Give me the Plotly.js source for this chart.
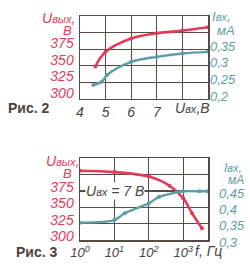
<!DOCTYPE html>
<html>
<head>
<meta charset="utf-8">
<script src="https://cdn.plot.ly/plotly-3.0.1.min.js"></script>
<style>html,body{margin:0;padding:0;background:#fff;}#chart{width:250px;height:270px;}</style>
</head>
<body>
<div id="chart"></div>
<script>
// Fig. 2: Uвых and Iвх versus Uвх
const uinRed = [4.6, 5, 6, 7, 8, 9];
const uoutRed = [349, 371, 391, 399, 403, 408];
const uinTeal = [4.52, 4.85, 5.05, 6, 7, 8, 9];
const iinTeal = [0.242, 0.252, 0.272, 0.312, 0.327, 0.337, 0.342];
const fig2XTicks = [4, 5, 6, 7, 8, 9];
const fig2XText = ['4', '5', '6', '7', '', ''];
const fig2YTicks = [300, 325, 350, 375, 400, 425];
const fig2YText = ['300', '325', '350', '375', '', ''];
const fig2Y2Ticks = [0.2, 0.25, 0.3, 0.35, 0.4, 0.45];
const fig2Y2Text = ['0,2', '0,25', '0,3', '0,35', '', ''];

// Fig. 3: Uвых and Iвх versus f (Uвх = 7 В)
const fRed = [1, 10, 100, 400, 1000, 1800, 3500];
const uoutF = [406, 404, 397, 383, 364, 341, 318];
const fTeal = [1, 10, 20, 100, 200, 1000, 3000, 5000];
const iinF = [0.353, 0.361, 0.382, 0.412, 0.432, 0.449, 0.449, 0.449];
const fig3XTicks = [1, 10, 100, 1000];
const fig3XText = ['10<sup>0</sup>', '10<sup>1</sup>', '10<sup>2</sup>', '10<sup>3</sup>'];
const fig3YTicks = [300, 325, 350, 375, 400, 425];
const fig3YText = ['300', '325', '350', '375', '', ''];
const fig3Y2Ticks = [0.3, 0.35, 0.4, 0.45, 0.5, 0.55];
const fig3Y2Text = ['0,3', '0,35', '0,4', '0,45', '', ''];

const RED = '#e23c58';
const TEAL = '#5c9ea2';
const GRID = '#574b45';
const DARK = '#4a423d';
const FONT = 'Liberation Sans, Arial, sans-serif';

const it = t => t ? '<i>' + t + '</i>' : '';

const traces = [
  {x: uinRed, y: uoutRed, xaxis: 'x', yaxis: 'y', mode: 'lines+markers',
   line: {color: RED, width: 2.6, shape: 'spline', smoothing: 1}, marker: {color: RED, size: 4}},
  {x: uinTeal, y: iinTeal, xaxis: 'x', yaxis: 'y2', mode: 'lines+markers',
   line: {color: TEAL, width: 2.4, shape: 'spline', smoothing: 1}, marker: {color: TEAL, size: 4}},
  {x: fRed, y: uoutF, xaxis: 'x2', yaxis: 'y3', mode: 'lines+markers',
   line: {color: RED, width: 2.6, shape: 'spline', smoothing: 0.9}, marker: {color: RED, size: 4}},
  {x: fTeal, y: iinF, xaxis: 'x2', yaxis: 'y4', mode: 'lines+markers',
   line: {color: TEAL, width: 2.4, shape: 'spline', smoothing: 0.8}, marker: {color: TEAL, size: 4}}
];

const baseAxis = {showgrid: true, gridcolor: GRID, gridwidth: 1.3, showline: true, linecolor: GRID,
  linewidth: 1.5, mirror: true, zeroline: false, ticks: '', fixedrange: true};

function pxX(px) { return (px - 80) / 128; }
function pxY(py) { return (240 - py) / 224; }

const tickFontDark = {family: FONT, size: 14, color: DARK};
const tickFontDarkSm = {family: FONT, size: 13, color: DARK};
const tickFontRed = {family: FONT, size: 14, color: RED};
const tickFontTeal = {family: FONT, size: 13, color: TEAL};

const sub = t => '<span style="font-size:11px">' + t + '</span>';

const layout = {
  width: 250, height: 270,
  margin: {l: 80, r: 42, t: 16, b: 30},
  paper_bgcolor: '#fff', plot_bgcolor: '#fff',
  showlegend: false,
  font: {family: FONT},
  xaxis: Object.assign({}, baseAxis, {anchor: 'y', domain: [0, 1], range: [4, 9],
    tickmode: 'array', tickvals: fig2XTicks, ticktext: fig2XText.map(it), tickfont: tickFontDark}),
  yaxis: Object.assign({}, baseAxis, {anchor: 'x', domain: [0.6295, 1], range: [300, 425],
    tickmode: 'array', tickvals: fig2YTicks, ticktext: fig2YText.map(it), tickfont: tickFontRed,
    ticklabelshift: -6, ticklabelstandoff: 2}),
  yaxis2: {anchor: 'x', overlaying: 'y', side: 'right', range: [0.2, 0.45], showgrid: false,
    zeroline: false, showline: false, ticks: '', tickmode: 'array', tickvals: fig2Y2Ticks,
    ticktext: fig2Y2Text.map(it), tickfont: tickFontTeal, ticklabelshift: -3, ticklabelstandoff: 1, fixedrange: true},
  xaxis2: Object.assign({}, baseAxis, {anchor: 'y3', domain: [0, 1], type: 'log', range: [0, 3.72],
    tickmode: 'array', tickvals: fig3XTicks, ticktext: fig3XText.map(it), tickfont: tickFontDarkSm}),
  yaxis3: Object.assign({}, baseAxis, {anchor: 'x2', domain: [0, 0.3647], range: [300, 425],
    tickmode: 'array', tickvals: fig3YTicks, ticktext: fig3YText.map(it), tickfont: tickFontRed,
    ticklabelshift: -4, ticklabelstandoff: 2}),
  yaxis4: {anchor: 'x2', overlaying: 'y3', side: 'right', range: [0.3, 0.55], showgrid: false,
    zeroline: false, showline: false, ticks: '', tickmode: 'array', tickvals: fig3Y2Ticks,
    ticktext: fig3Y2Text.map(it), tickfont: tickFontTeal, ticklabelshift: 2, ticklabelstandoff: 10, fixedrange: true},
  annotations: [
    {text: '<i>U' + sub('вых') + ',</i>', xref: 'paper', yref: 'paper', x: pxX(77), y: pxY(18), xanchor: 'right', yanchor: 'middle',
     showarrow: false, font: {family: FONT, size: 14, color: RED}},
    {text: '<i>В</i>', xref: 'paper', yref: 'paper', x: pxX(67), y: pxY(30), xanchor: 'center', yanchor: 'middle',
     showarrow: false, font: {family: FONT, size: 13, color: RED}},
    {text: '<i>I' + sub('вх') + ',</i>', xref: 'paper', yref: 'paper', x: pxX(210), y: pxY(16), xanchor: 'left', yanchor: 'middle',
     showarrow: false, font: {family: FONT, size: 13, color: TEAL}},
    {text: '<i>мА</i>', xref: 'paper', yref: 'paper', x: pxX(215), y: pxY(31), xanchor: 'left', yanchor: 'middle',
     showarrow: false, font: {family: FONT, size: 13, color: TEAL}},
    {text: '<i>U' + sub('вх') + ',В</i>', xref: 'paper', yref: 'paper', x: pxX(173), y: pxY(108), xanchor: 'left', yanchor: 'middle',
     showarrow: false, font: {family: FONT, size: 14, color: DARK}},
    {text: '<b>Рис. 2</b>', xref: 'paper', yref: 'paper', x: pxX(6), y: pxY(108), xanchor: 'left', yanchor: 'middle',
     showarrow: false, font: {family: FONT, size: 14, color: DARK}},
    {text: '<i>U' + sub('вых') + ',</i>', xref: 'paper', yref: 'paper', x: pxX(81), y: pxY(161), xanchor: 'right', yanchor: 'middle',
     showarrow: false, font: {family: FONT, size: 14, color: RED}},
    {text: '<i>В</i>', xref: 'paper', yref: 'paper', x: pxX(67), y: pxY(173), xanchor: 'center', yanchor: 'middle',
     showarrow: false, font: {family: FONT, size: 13, color: RED}},
    {text: '<i>I' + sub('вх') + ',</i>', xref: 'paper', yref: 'paper', x: pxX(222), y: pxY(168), xanchor: 'left', yanchor: 'middle',
     showarrow: false, font: {family: FONT, size: 12, color: TEAL}},
    {text: '<i>мА</i>', xref: 'paper', yref: 'paper', x: pxX(226), y: pxY(180), xanchor: 'left', yanchor: 'middle',
     showarrow: false, font: {family: FONT, size: 12, color: TEAL}},
    {text: '<i>f, Гц</i>', xref: 'paper', yref: 'paper', x: pxX(193), y: pxY(251), xanchor: 'left', yanchor: 'middle',
     showarrow: false, font: {family: FONT, size: 14, color: DARK}},
    {text: '<b>Рис. 3</b>', xref: 'paper', yref: 'paper', x: pxX(14), y: pxY(252), xanchor: 'left', yanchor: 'middle',
     showarrow: false, font: {family: FONT, size: 14, color: DARK}},
    {text: '<i>U' + sub('вх') + ' = 7 В</i>', xref: 'paper', yref: 'paper', x: pxX(85), y: pxY(191), xanchor: 'left', yanchor: 'middle',
     showarrow: false, bgcolor: '#fff', borderpad: 0, font: {family: FONT, size: 14, color: DARK}}
  ]
};

Plotly.newPlot('chart', traces, layout, {staticPlot: true, displayModeBar: false});
</script>
</body>
</html>
